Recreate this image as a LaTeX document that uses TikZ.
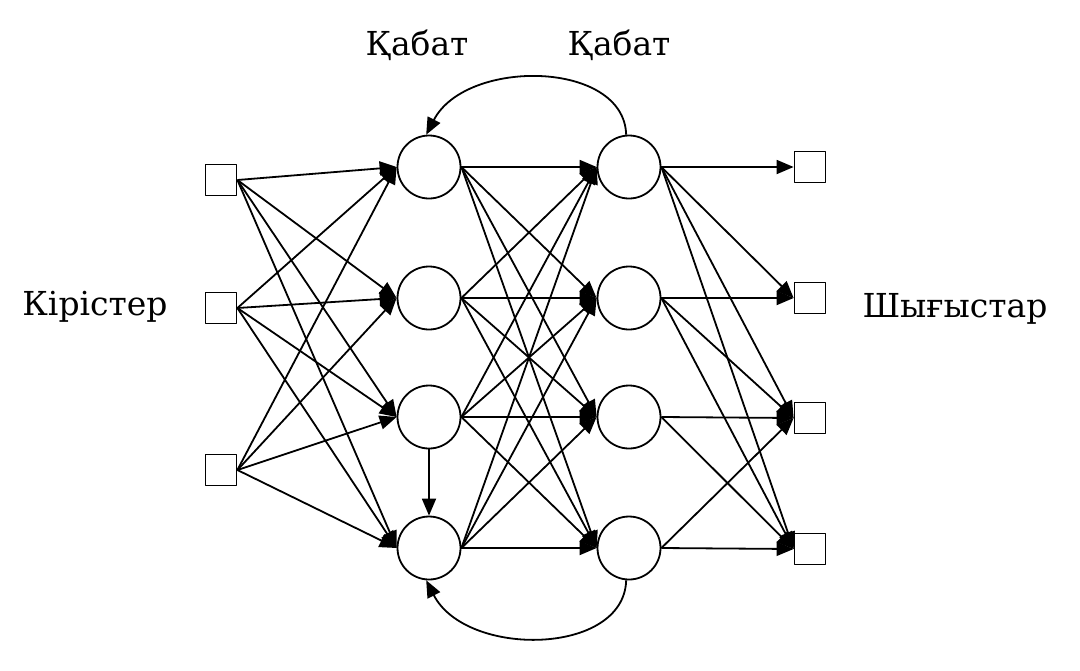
\documentclass[tikz,border=0pt]{standalone}
\usepackage{fontspec}
\setmainfont{DejaVu Serif}
\usetikzlibrary{arrows.meta}

\begin{document}
\begin{tikzpicture}[line join=round,x=0.5pt,y=-0.5pt,line width=0.9pt,
 neuron/.style={draw,circle,minimum size=31.5pt,inner sep=0pt},
 cell/.style={draw,rectangle,minimum size=15.5pt,inner sep=0pt},
 arr/.style={-{Triangle[length=8.5pt,width=7pt]}},
 lbl/.style={anchor=base,font=\fontsize{16.5}{19}\selectfont}]
\useasboundingbox (0,0) rectangle (1080,670);
\node[cell] (x1) at (221,180) {};
\node[cell] (x2) at (221,308) {};
\node[cell] (x3) at (221,470) {};
\node[neuron] (a1) at (429,167) {};
\node[neuron] (a2) at (429,298) {};
\node[neuron] (a3) at (429,417) {};
\node[neuron] (a4) at (429,548) {};
\node[neuron] (b1) at (629,167) {};
\node[neuron] (b2) at (629,298) {};
\node[neuron] (b3) at (629,417) {};
\node[neuron] (b4) at (629,548) {};
\node[cell] (y1) at (810,167) {};
\node[cell] (y2) at (810,298) {};
\node[cell] (y3) at (810,418) {};
\node[cell] (y4) at (810,549) {};
\node[lbl] (tA) at (417,55) {Қабат};
\node[lbl] (tB) at (619,55) {Қабат};
\node[lbl] (tin) at (95,315) {Кірістер};
\node[lbl] (tout) at (955,317) {Шығыстар};
\path[arr] (x1.east) edge (a1.west) edge (a2.west) edge (a3.west) edge (a4.west);
\path[arr] (x2.east) edge (a1.west) edge (a2.west) edge (a3.west) edge (a4.west);
\path[arr] (x3.east) edge (a1.west) edge (a2.west) edge (a3.west) edge (a4.west);
\path[arr] (a1.east) edge (b1.west) edge (b2.west) edge (b3.west) edge (b4.west);
\path[arr] (a2.east) edge (b1.west) edge (b2.west) edge (b3.west) edge (b4.west);
\path[arr] (a3.east) edge (b1.west) edge (b2.west) edge (b3.west) edge (b4.west);
\path[arr] (a4.east) edge (b1.west) edge (b2.west) edge (b3.west) edge (b4.west);
\path[arr] (b1.east) edge (y1.west) edge (y2.west) edge (y3.west) edge (y4.west);
\path[arr] (b2.east) edge (y2.west) edge (y3.west) edge (y4.west);
\path[arr] (b3.east) edge (y3.west) edge (y4.west);
\path[arr] (b4.east) edge (y3.west) edge (y4.west);
\draw[arr] (a3.south) -- (a4.north);
\draw[arr] (b1.95) .. controls (624,60) and (466,58) .. (a1.95);
\draw[arr] (b4.265) .. controls (624,656) and (466,658) .. (a4.265);
\end{tikzpicture}
\end{document}
